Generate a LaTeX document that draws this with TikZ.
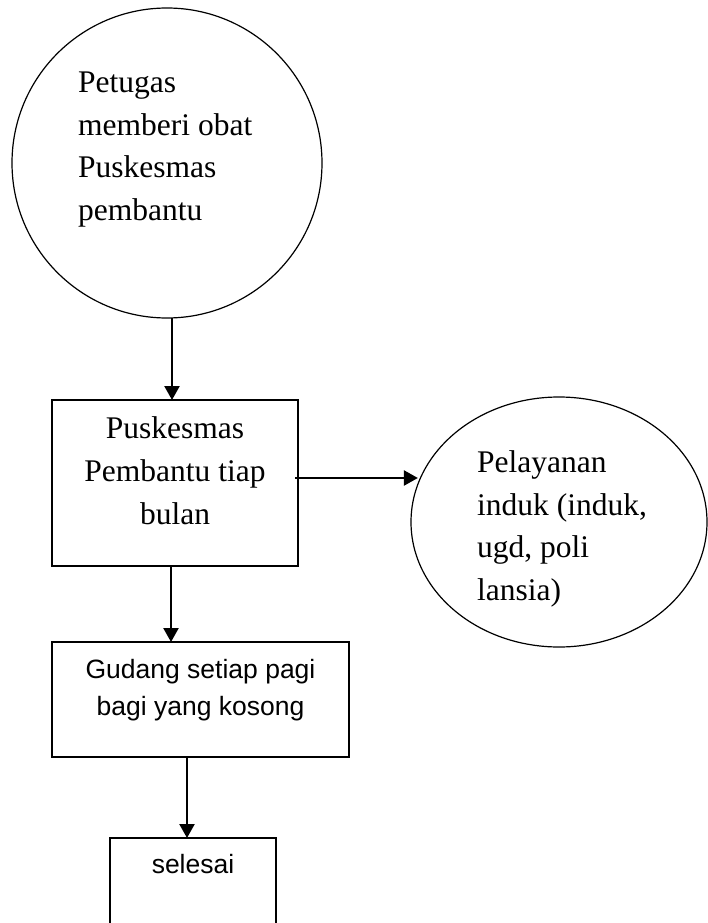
\documentclass[tikz,border=0pt]{standalone}
\usepackage{fontspec}
\newfontfamily\tnr{Liberation Serif}
\newfontfamily\ars{Liberation Sans}
\usetikzlibrary{arrows.meta,shapes.geometric}
\begin{document}
\begin{tikzpicture}[x=1pt,y=-1pt,
  shapeline/.style={draw=black,line width=1.2pt,inner sep=0pt,outer sep=0pt},
  boxshape/.style={shapeline,rectangle,line width=1.5pt},
  serifbig/.style={font=\tnr\fontsize{31.5}{42.5}\selectfont,inner sep=0pt},
  sansmid/.style={font=\ars\fontsize{26.5}{37}\selectfont,inner sep=0pt},
  arr/.style={line width=2.4pt,-{Triangle[width=15pt,length=14pt]}}]
\useasboundingbox (0,0) rectangle (708,923);
\clip (0,0) rectangle (708,923);
% shapes
\node[shapeline,circle,minimum size=310pt] (circ) at (167,163) {};
\node[boxshape,minimum width=246pt,minimum height=166pt] (box1) at (175,483) {};
\node[shapeline,ellipse,minimum width=296pt,minimum height=250pt] (ell) at (559,522) {};
\node[boxshape,minimum width=297pt,minimum height=115pt] (box2) at (200.5,699.5) {};
\node[boxshape,minimum width=166pt,minimum height=100pt] (box3) at (193,888) {};
% texts
\node[serifbig,anchor=base west,align=left] (tcirc) at (78,220) {Petugas\\memberi obat\\Puskesmas\\pembantu};
\node[serifbig,anchor=base,align=center,font=\tnr\fontsize{31.5}{43}\selectfont] (tbox1) at (175,524) {Puskesmas\\Pembantu tiap\\bulan};
\node[serifbig,anchor=base west,align=left] (tell) at (477,600) {Pelayanan\\induk (induk,\\ugd, poli\\lansia)};
\node[sansmid,anchor=base,align=center] (tbox2) at (200.5,715) {Gudang setiap pagi\\bagi yang kosong};
\node[sansmid,anchor=base] (tbox3) at (193,873) {selesai};
% connectors
\draw[arr] ([xshift=5pt]circ.south) -- ([xshift=-3pt]box1.north);
\draw[arr] ([xshift=-3pt,yshift=5pt]box1.east) -- ([xshift=-3pt,yshift=5pt]box1.east -| ell.162);
\draw[arr] ([xshift=-4pt]box1.south) -- ([xshift=-4pt]box1.south |- box2.north);
\draw[arr] ([xshift=-6pt]box3.north |- box2.south) -- ([xshift=-6pt]box3.north);
\end{tikzpicture}
\end{document}
